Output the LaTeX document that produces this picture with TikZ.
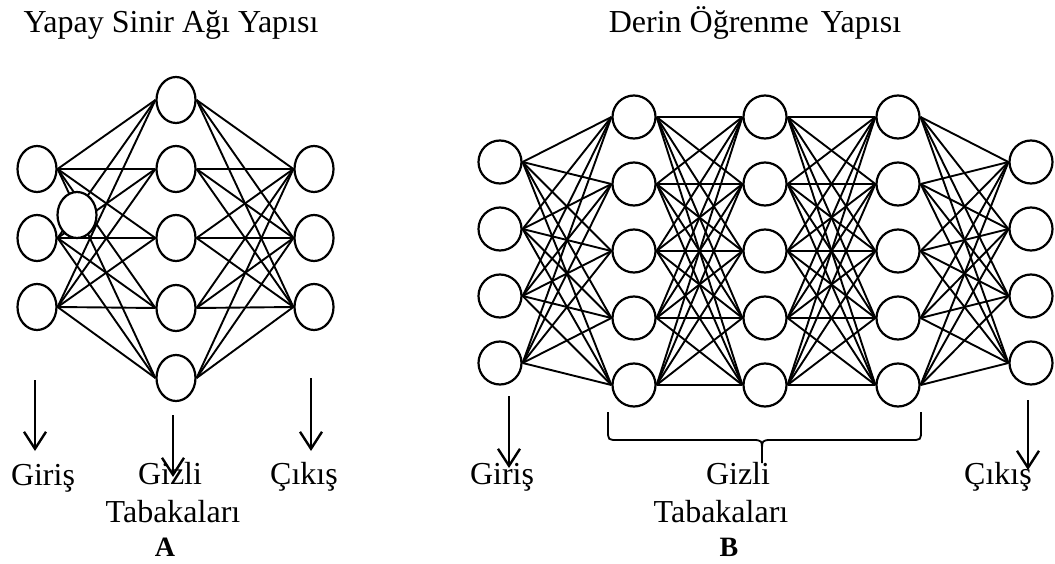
\documentclass[tikz,border=0pt]{standalone}
\usepackage{fontspec}
\setmainfont{Liberation Serif}
\usetikzlibrary{arrows.meta,shapes.geometric}

\begin{document}
\begin{tikzpicture}[x=1pt,y=-1pt,>={Straight Barb[length=17pt,width=22pt]},
            neuron/.style={ellipse,draw,line width=2.2pt,inner sep=0pt,
              minimum width=39pt,minimum height=46pt},
            unit/.style={circle,draw,line width=2.2pt,inner sep=0pt,minimum size=43pt},
            link/.style={line width=1.9pt},
            pointer/.style={->,line width=2.4pt},
            word/.style={font=\fontsize{32}{38}\selectfont,anchor=base,inner sep=0pt}]

          \useasboundingbox (0,0) rectangle (1055,564);

          % shallow net: 3 - 5 - 3
          \foreach \y [count=\i] in {169,238,307} {
            \node[neuron] (ai\i) at ( 37,\y) {};
            \node[neuron] (ao\i) at (314,\y) {};
          }
          \foreach \y [count=\i] in {100,169,238,308,378}
            \node[neuron] (ah\i) at (176,\y) {};
          \foreach \i in {1,2,3}
            \foreach \j in {1,...,5}
              \draw[link] (ai\i.east) -- (ah\j.west) (ah\j.east) -- (ao\i.west);
          \node[neuron,fill=white] (ax) at (77,215) {};

          % deep net: 4 - 5 - 5 - 5 - 4
          \foreach \y [count=\i] in {162,229,296,363} {
            \node[unit] (bi\i) at ( 500,\y) {};
            \node[unit] (bo\i) at (1031,\y) {};
          }
          \foreach \y [count=\i] in {117,184,251,318,385}
            \foreach \x [count=\k] in {634,765,898}
              \node[unit] (bh\k\i) at (\x,\y) {};
          \foreach \i in {1,...,5}
            \foreach \j in {1,...,5}
              \draw[link] (bh1\i.east) -- (bh2\j.west) (bh2\i.east) -- (bh3\j.west);
          \foreach \i in {1,...,4}
            \foreach \j in {1,...,5}
              \draw[link] (bi\i.east) -- (bh1\j.west) (bh3\j.east) -- (bo\i.west);

          % titles and captions
          \node[word] (ta) at (171, 33) {Yapay Sinir Ağı Yapısı};
          \node[word] (tb) at (755, 33) {Derin Öğrenme\hspace{4pt} Yapısı};

          \node[word] (agir) at ( 43,485) {Giriş};
          \node[word] (agiz) at (170,484) {Gizli};
          \node[word] (atab) at (173,522) {Tabakaları};
          \node[word] (acik) at (304,484) {Çıkış};
          \node[word,font=\fontsize{28}{32}\selectfont\bfseries] (na) at (165,556) {A};

          \node[word] (bgir) at ( 502,484) {Giriş};
          \node[word] (bgiz) at ( 738,484) {Gizli};
          \node[word] (btab) at ( 721,522) {Tabakaları};
          \node[word] (bcik) at ( 998,484) {Çıkış};
          \node[word,font=\fontsize{28}{32}\selectfont\bfseries] (nb) at (729,556) {B};

          % arrows down to the captions
          \coordinate (p1) at (  35,380); \coordinate (q1) at (  35,451);
          \coordinate (p2) at ( 173,415); \coordinate (q2) at ( 173,477);
          \coordinate (p3) at ( 311,378); \coordinate (q3) at ( 311,451);
          \coordinate (p4) at ( 509,396); \coordinate (q4) at ( 509,468);
          \coordinate (p5) at (1028,400); \coordinate (q5) at (1028,470);
          \foreach \k in {1,...,5}
            \draw[pointer] (p\k) -- (q\k);

          % brace under the hidden layers
          \draw[line width=1.8pt] (608,412) -- (608,430) .. controls (608,440) .. (618,440)
                -- (752,440) .. controls (762,440) .. (762,452) -- (762,463)
                (762,452) .. controls (762,440) .. (772,440) -- (911,440)
                .. controls (921,440) .. (921,430) -- (921,412);
        \end{tikzpicture}
\end{document}
